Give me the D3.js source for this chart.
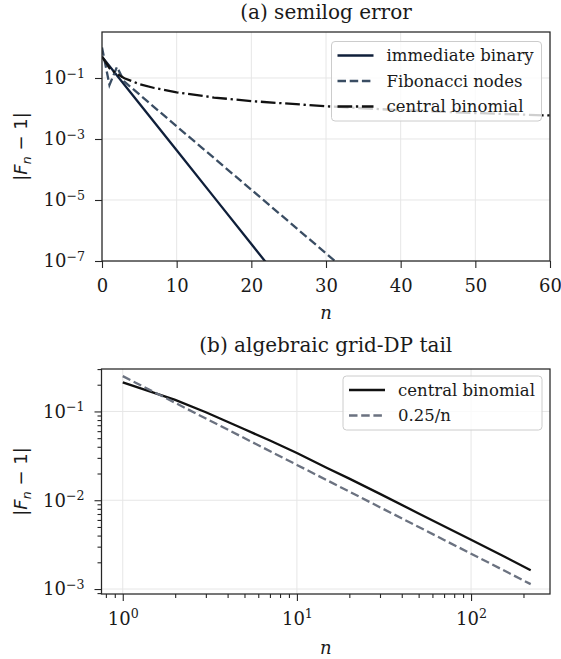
<!DOCTYPE html>
<html>
  <head>
    <meta charset="utf-8" />
    <title>F_n error</title>
    <script src="https://cdn.jsdelivr.net/npm/d3@7"></script>
    <style>
      body { margin: 0; background: #fff; }
      text { font-family: "DejaVu Serif", serif; }
    </style>
  </head>
  <body>
    <script>
      // (a) semilog error
      const immN = [0, 5, 10, 15, 20, 25];
      const immErr = [0.5, 1.46e-2, 4.3e-4, 1.24e-5, 3.6e-7, 1.05e-8];

      const fibN = [0, 1, 2, 3, 10, 20, 30, 35];
      const fibErr = [1.0, 0.059, 0.23, 0.076, 2.6e-3, 2.17e-5, 1.78e-7, 1.6e-8];

      const cbN = [0, 1, 2, 3, 5, 7, 10, 15, 20, 30, 40, 50, 60];
      const cbErr = [0.5, 0.21, 0.135, 0.098, 0.063, 0.047, 0.034, 0.0229, 0.0175, 0.0118, 0.0088, 0.0071, 0.0059];

      const topXTicks = [0, 10, 20, 30, 40, 50, 60];
      const topYTicks = [1e-1, 1e-3, 1e-5, 1e-7];

      // (b) algebraic grid-DP tail
      const tailN = [1, 2, 3, 5, 7, 10, 15, 20, 30, 50, 70, 100, 150, 220];
      const tailErr = [0.213, 0.135, 0.098, 0.063, 0.047, 0.034, 0.0229, 0.0175, 0.0118, 0.0071, 0.0051, 0.00358, 0.0024, 0.00163];

      const refN = [1, 10, 100, 220];
      const refErr = [0.25, 0.025, 0.0025, 0.001136];

      const botXTicks = [1, 10, 100];
      const botYTicks = [1e-1, 1e-2, 1e-3];

      const W = 561, H = 659;
      const svg = d3.select("body").append("svg")
        .attr("width", W).attr("height", H);

      const minus = "\u2212";
      const tickFont = 18;

      function supLabels(sel, expOf) {
        sel.selectAll(".tick text").each(function (d) {
          const t = d3.select(this);
          t.text(null);
          t.append("tspan").text("10");
          const e = expOf(d);
          t.append("tspan").attr("dy", "-0.5em").attr("font-size", "0.7em")
            .text(e < 0 ? minus + (-e) : "" + e);
        });
      }

      function styleAxis(g) {
        g.select(".domain").remove();
        g.selectAll(".tick line").attr("stroke", "#262626").attr("stroke-width", 1.1);
        g.selectAll(".tick text").attr("fill", "#1a1a1a")
          .attr("font-family", "DejaVu Serif").attr("font-size", tickFont);
      }

      function panel(box, x, y, id) {
        const g = svg.append("g");
        g.append("clipPath").attr("id", id).append("rect")
          .attr("x", box.l).attr("y", box.t)
          .attr("width", box.r - box.l).attr("height", box.b - box.t);
        return g;
      }

      function grid(g, box, xs, ys, x, y) {
        g.append("g").selectAll("line").data(xs).join("line")
          .attr("x1", d => x(d)).attr("x2", d => x(d))
          .attr("y1", box.t).attr("y2", box.b)
          .attr("stroke", "#e6e6e6").attr("stroke-width", 1);
        g.append("g").selectAll("line").data(ys).join("line")
          .attr("y1", d => y(d)).attr("y2", d => y(d))
          .attr("x1", box.l).attr("x2", box.r)
          .attr("stroke", "#e6e6e6").attr("stroke-width", 1);
      }

      function frame(g, box) {
        g.append("rect").attr("x", box.l).attr("y", box.t)
          .attr("width", box.r - box.l).attr("height", box.b - box.t)
          .attr("fill", "none").attr("stroke", "#262626").attr("stroke-width", 1.25);
      }

      function series(g, id, x, y, ns, vs, color, dash) {
        g.append("path")
          .datum(ns.map((n, i) => [n, vs[i]]))
          .attr("clip-path", "url(#" + id + ")")
          .attr("fill", "none").attr("stroke", color).attr("stroke-width", 2.3)
          .attr("stroke-dasharray", dash)
          .attr("d", d3.line().x(d => x(d[0])).y(d => y(d[1])));
      }

      function legend(g, x0, y0, w, rows) {
        const h = rows.length * 25.5 + 3;
        g.append("rect").attr("x", x0).attr("y", y0).attr("width", w).attr("height", h)
          .attr("rx", 3.5).attr("fill", "#fff").attr("fill-opacity", 0.8)
          .attr("stroke", "#cccccc").attr("stroke-width", 1);
        rows.forEach((r, i) => {
          const cy = y0 + 14 + i * 25.5;
          g.append("line").attr("x1", x0 + 6).attr("x2", x0 + 42)
            .attr("y1", cy).attr("y2", cy)
            .attr("stroke", r.color).attr("stroke-width", 2.3)
            .attr("stroke-dasharray", r.dash);
          g.append("text").attr("x", x0 + 55).attr("y", cy + 5.5)
            .attr("font-size", 16.5).attr("fill", "#1a1a1a").text(r.label);
        });
      }

      function ylabel(g, cx, cy) {
        const t = g.append("text")
          .attr("transform", "translate(" + cx + "," + cy + ") rotate(-90)")
          .attr("text-anchor", "middle")
          .attr("font-family", "DejaVu Sans").attr("font-size", 18).attr("fill", "#1a1a1a");
        t.append("tspan").attr("font-family", "DejaVu Sans").text("|");
        t.append("tspan").attr("font-family", "DejaVu Sans").attr("font-style", "italic").text("F");
        t.append("tspan").attr("font-family", "DejaVu Sans").attr("font-style", "italic")
          .attr("font-size", 12.6).attr("dy", 4).text("n");
        t.append("tspan").attr("font-family", "DejaVu Sans").attr("dy", -4).text(" " + minus + " 1|");
      }

      function xlabel(g, cx, yb) {
        g.append("text").attr("x", cx).attr("y", yb).attr("text-anchor", "middle")
          .attr("font-family", "DejaVu Sans").attr("font-style", "italic")
          .attr("font-size", 18).attr("fill", "#1a1a1a").text("n");
      }

      function title(g, cx, yb, s) {
        g.append("text").attr("x", cx).attr("y", yb).attr("text-anchor", "middle")
          .attr("font-size", 20).attr("fill", "#1a1a1a").text(s);
      }

      const DASH = "8.5,3.7";
      const DASHDOT = "14.7,3.7,2.3,3.7";

      // ---- panel (a)
      const A = { l: 102, r: 550, t: 32, b: 261 };
      const xa = d3.scaleLinear().domain([0, 60]).range([A.l, A.r]);
      const ya = d3.scaleLog().domain([1e-7, Math.pow(10, 0.508)]).range([A.b, A.t]);
      const ga = panel(A, xa, ya, "clipA");
      grid(ga, A, topXTicks, topYTicks, xa, ya);

      const axA = ga.append("g").attr("transform", "translate(0," + A.b + ")")
        .call(d3.axisBottom(xa).tickValues(topXTicks).tickSize(7).tickPadding(11).tickFormat(d3.format("d")));
      styleAxis(axA);
      const ayA = ga.append("g").attr("transform", "translate(" + A.l + ",0)")
        .call(d3.axisLeft(ya).tickValues(topYTicks).tickSize(7).tickPadding(10));
      styleAxis(ayA);
      supLabels(ayA, d => Math.round(Math.log10(d)));

      series(ga, "clipA", xa, ya, immN, immErr, "#0f1f3a", null);
      series(ga, "clipA", xa, ya, fibN, fibErr, "#3a4d63", DASH);
      series(ga, "clipA", xa, ya, cbN, cbErr, "#111111", DASHDOT);
      frame(ga, A);
      legend(ga, 331.5, 41.5, 210, [
        { label: "immediate binary", color: "#0f1f3a", dash: null },
        { label: "Fibonacci nodes", color: "#3a4d63", dash: DASH },
        { label: "central binomial", color: "#111111", dash: DASHDOT }
      ]);
      ylabel(ga, 27, (A.t + A.b) / 2);
      xlabel(ga, (A.l + A.r) / 2, 319);
      title(ga, (A.l + A.r) / 2, 18.5, "(a) semilog error");

      // ---- panel (b)
      const B = { l: 101.5, r: 550, t: 369, b: 594 };
      const xb = d3.scaleLog().domain([0.755, 284]).range([B.l, B.r]);
      const yb = d3.scaleLog().domain([Math.pow(10, -3.056), Math.pow(10, -0.522)]).range([B.b, B.t]);
      const gb = panel(B, xb, yb, "clipB");
      grid(gb, B, botXTicks, botYTicks, xb, yb);

      const minorX = xb.ticks().filter(v => botXTicks.indexOf(v) < 0);
      const minorY = yb.ticks().filter(v => !botYTicks.some(t => Math.abs(t - v) / t < 1e-6));

      const axB = gb.append("g").attr("transform", "translate(0," + B.b + ")")
        .call(d3.axisBottom(xb).tickValues(botXTicks).tickSize(7).tickPadding(11));
      styleAxis(axB);
      supLabels(axB, d => Math.round(Math.log10(d)));
      const axBm = gb.append("g").attr("transform", "translate(0," + B.b + ")")
        .call(d3.axisBottom(xb).tickValues(minorX).tickSize(4).tickFormat(""));
      styleAxis(axBm);

      const ayB = gb.append("g").attr("transform", "translate(" + B.l + ",0)")
        .call(d3.axisLeft(yb).tickValues(botYTicks).tickSize(7).tickPadding(10));
      styleAxis(ayB);
      supLabels(ayB, d => Math.round(Math.log10(d)));
      const ayBm = gb.append("g").attr("transform", "translate(" + B.l + ",0)")
        .call(d3.axisLeft(yb).tickValues(minorY).tickSize(4).tickFormat(""));
      styleAxis(ayBm);

      series(gb, "clipB", xb, yb, tailN, tailErr, "#111111", null);
      series(gb, "clipB", xb, yb, refN, refErr, "#6b7280", DASH);
      frame(gb, B);
      legend(gb, 343, 376, 199, [
        { label: "central binomial", color: "#111111", dash: null },
        { label: "0.25/n", color: "#6b7280", dash: DASH }
      ]);
      ylabel(gb, 27, (B.t + B.b) / 2);
      xlabel(gb, (B.l + B.r) / 2, 654);
      title(gb, (B.l + B.r) / 2, 352, "(b) algebraic grid-DP tail");
    </script>
  </body>
</html>
